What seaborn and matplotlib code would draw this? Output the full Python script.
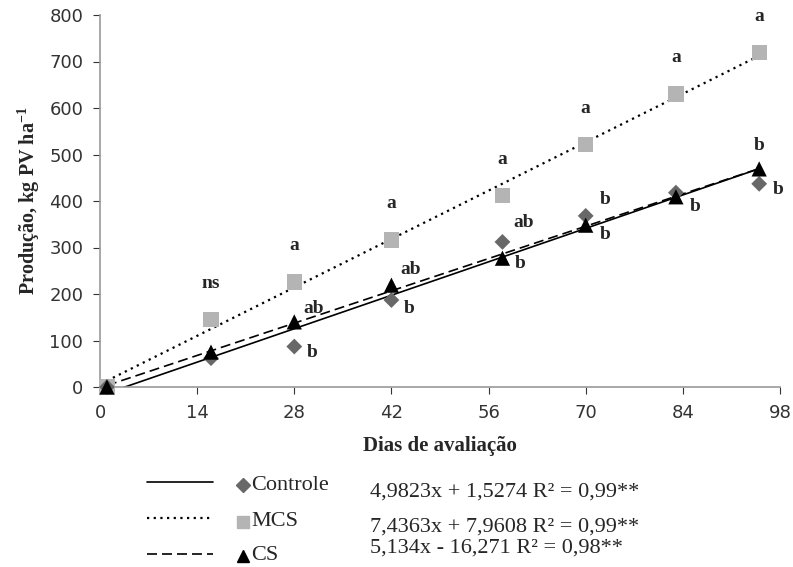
import matplotlib
matplotlib.use("Agg")
import matplotlib.pyplot as plt
from matplotlib.lines import Line2D
import seaborn as sns
import numpy as np
import pandas as pd

# ---- data ----
dias = [1, 16, 28, 42, 58, 70, 83, 95]
controle = [0, 62, 87, 187, 312, 368, 418, 437]
mcs = [0, 145, 226, 316, 411, 522, 630, 720]
cs = [0, 75, 140, 219, 277, 348, 409, 469]

letras_controle = ["", "", "b", "b", "ab", "b", "", "b"]
letras_mcs = ["", "ns", "a", "a", "a", "a", "a", "a"]
letras_cs = ["", "", "ab", "ab", "b", "b", "b", "b"]

series_names = ["Controle", "MCS", "CS"]
equations = ["4,9823x + 1,5274 R² = 0,99**",
             "7,4363x + 7,9608 R² = 0,99**",
             "5,134x - 16,271 R² = 0,98**"]
x_ticks = [0, 14, 28, 42, 56, 70, 84, 98]
y_ticks = [0, 100, 200, 300, 400, 500, 600, 700, 800]

# ---- style ----
sns.set_style("white")
plt.rcParams["font.family"] = ["DejaVu Sans"]
plt.rcParams["mathtext.default"] = "regular"
serif = ["Liberation Serif", "DejaVu Serif"]

df = pd.DataFrame({"dias": dias, "Controle": controle, "MCS": mcs, "CS": cs})

fig = plt.figure(figsize=(7.93, 5.67), dpi=100)
ax = fig.add_axes([100 / 793, 1 - 387 / 567, 680 / 793, 372 / 567])

col = {"Controle": "#686868", "MCS": "#b4b4b4", "CS": "#000000"}
mk = {"Controle": "D", "MCS": "s", "CS": "^"}
ms = {"Controle": 65, "MCS": 120, "CS": 120}
ls = {"Controle": "-", "MCS": (0, (1, 2)), "CS": (0, (6, 3))}
lw = {"Controle": 1.2, "MCS": 1.6, "CS": 1.2}

# trend lines
for name in ["MCS", "Controle", "CS"]:
    sns.regplot(data=df, x="dias", y=name, ax=ax, scatter=False, ci=None,
                line_kws=dict(color="black", linestyle=ls[name], linewidth=lw[name]))

# markers
for name in ["MCS", "Controle", "CS"]:
    sns.scatterplot(data=df, x="dias", y=name, ax=ax, marker=mk[name], s=ms[name],
                    color=col[name], edgecolor="none", linewidth=0, zorder=5)
for c in ax.collections:
    c.set_clip_on(False)

# letters
off_mcs = [(0, 0), (0, 26), (0, 26), (0, 26), (0, 26), (0, 26), (0, 26), (0, 26)]
off_ctrl = [(0, 0), (0, 0), (13, -4), (13, -6), (15, 14), (14, 12), (0, 0), (14, -4)]
off_cs = [(0, 0), (0, 0), (14, 10), (14, 11), (13, -4), (14, -7), (14, -7), (0, 17)]
txt_kw = dict(fontsize=14, fontweight="bold", family=serif, ha="center", va="center",
              textcoords="offset points")
for x, y, t, o in zip(dias, mcs, letras_mcs, off_mcs):
    if t:
        ax.annotate(t, (x, y), xytext=o, **txt_kw)
for x, y, t, o in zip(dias, controle, letras_controle, off_ctrl):
    if t:
        ax.annotate(t, (x, y), xytext=o, **txt_kw)
for x, y, t, o in zip(dias, cs, letras_cs, off_cs):
    if t:
        ax.annotate(t, (x, y), xytext=o, **txt_kw)

ax.set_xlim(0, 98)
ax.set_ylim(0, 800)
ax.set_xticks(x_ticks)
ax.set_yticks(y_ticks)
ax.tick_params(axis="both", labelsize=13, colors="#333333", length=5, direction="out",
               bottom=True, left=True)
ax.tick_params(axis="x", pad=7)
ax.tick_params(axis="y", pad=7)
for s in ["top", "right"]:
    ax.spines[s].set_visible(False)
for s in ["left", "bottom"]:
    ax.spines[s].set_color("#9a9a9a")
    ax.spines[s].set_linewidth(1.2)
ax.set_xlabel("Dias de avaliação", fontsize=15, fontweight="bold", family=serif, labelpad=10)
ax.set_ylabel("Produção, kg PV ha$^{-1}$", fontsize=14.5, fontweight="bold",
              family=serif, labelpad=5)

# custom legend
line_y = [482, 518, 554]
label_y = [485, 522, 556]
eq_y = [492, 527, 548]
leg_ms = {"Controle": 7, "MCS": 8.5, "CS": 8}
for i, name in enumerate(series_names):
    yl = 1 - line_y[i] / 567
    fig.add_artist(Line2D([147 / 793, 213 / 793], [yl, yl], color="black",
                          linestyle=ls[name], linewidth=lw[name]))
    ym = 1 - label_y[i] / 567
    fig.add_artist(Line2D([243 / 793], [ym], marker=mk[name], color=col[name],
                          markersize=leg_ms[name], linestyle="none"))
    fig.text(251 / 793, ym, name, fontsize=16, family=serif, va="center", ha="left")
    fig.text(370 / 793, 1 - eq_y[i] / 567, equations[i], fontsize=16,
             family=serif, va="center", ha="left")

fig.savefig("out.png", dpi=100)
